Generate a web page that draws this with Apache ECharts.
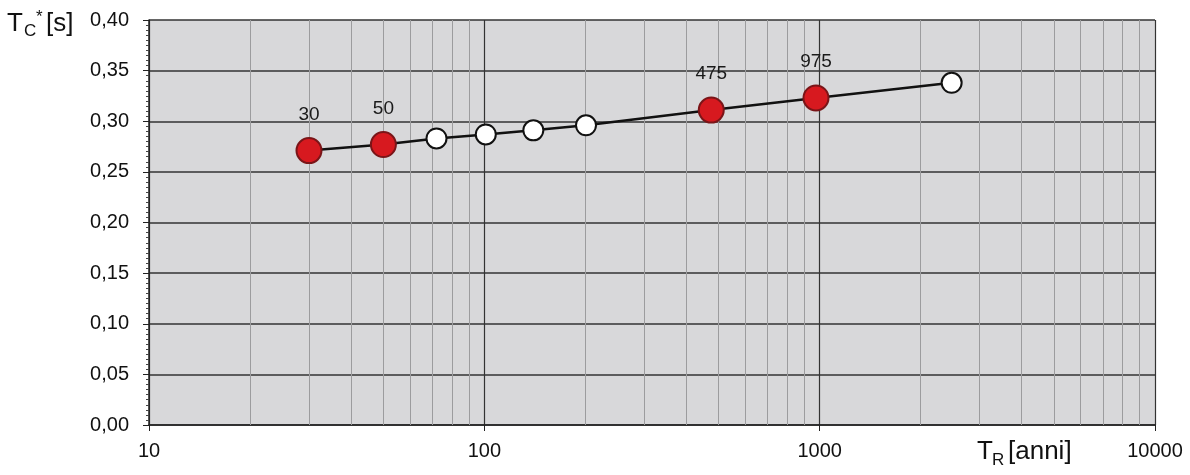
<!DOCTYPE html>
<html>
<head>
<meta charset="utf-8">
<script src="https://cdn.jsdelivr.net/npm/echarts@6/dist/echarts.min.js"></script>
<style>
html,body{margin:0;padding:0;background:#fff;}
#c{width:1190px;height:475px;}
</style>
</head>
<body>
<div id="c"></div>
<script>
// Return periods T_R [anni] and T_C* [s]
const periods = [30, 50, 72, 101, 140, 201, 475, 975, 2475];
const tcValues = [0.271, 0.277, 0.283, 0.287, 0.291, 0.296, 0.311, 0.323, 0.338];
const highlighted = [30, 50, 475, 975];
const xTickLabels = ['10', '100', '1000', '10000'];
const minorX = [20,30,40,50,60,70,80,90,200,300,400,500,600,700,800,900,2000,3000,4000,5000,6000,7000,8000,9000];

const chart = echarts.init(document.getElementById('c'));
const FONT = 'Liberation Sans, Arial, sans-serif';

const pts = periods.map((p, i) => {
  const hl = highlighted.includes(p);
  return {
    value: [p, tcValues[i]],
    symbolSize: hl ? 25 : 20,
    itemStyle: hl ? {color: '#d7191f', borderColor: '#7a1518', borderWidth: 2}
                  : {color: '#ffffff', borderColor: '#111', borderWidth: 2},
    label: {show: hl, formatter: String(p), position: 'top', distance: 13,
            color: '#1a1a1a', fontSize: 19, fontFamily: FONT}
  };
});

chart.setOption({
  animation: false,
  backgroundColor: '#ffffff',
  grid: {left: 149, right: 35, top: 20, bottom: 50, show: true, backgroundColor: '#d8d8da', borderWidth: 0},
  xAxis: {
    type: 'log', logBase: 10, min: 10, max: 10000,
    axisLine: {show: true, onZero: false, lineStyle: {color: '#222', width: 1.5}},
    axisTick: {show: true, length: 6, lineStyle: {color: '#222'}},
    axisLabel: {fontSize: 20, color: '#111', fontFamily: FONT, margin: 16,
      formatter: v => xTickLabels.includes(String(Math.round(v))) ? String(Math.round(v)) : ''},
    splitLine: {show: true, lineStyle: {color: '#333', width: 1.2}}
  },
  yAxis: {
    type: 'value', min: 0, max: 0.40, interval: 0.05,
    axisLine: {show: true, lineStyle: {color: '#222', width: 1.5}},
    axisTick: {show: true, length: 6, lineStyle: {color: '#222'}},
    minorTick: {show: true, splitNumber: 10, length: 3, lineStyle: {color: '#444'}},
    axisLabel: {fontSize: 20, color: '#111', fontFamily: FONT, margin: 20,
      formatter: v => v.toFixed(2).replace('.', ',')},
    splitLine: {show: true, lineStyle: {color: '#333', width: 1.5}}
  },
  series: [
    {
      type: 'line', data: [], silent: true,
      markLine: {
        silent: true, symbol: 'none', label: {show: false},
        lineStyle: {color: '#9c9c9e', width: 1, type: 'solid'},
        data: minorX.map(v => ({xAxis: v}))
      }
    },
    {
      type: 'line', data: pts, symbol: 'circle',
      lineStyle: {color: '#111', width: 2.5},
      z: 5
    }
  ],
  graphic: [
    {type: 'text', left: 7, top: 11, style: {text: 'T', fontSize: 26, fontFamily: FONT, fill: '#111'}},
    {type: 'text', left: 24, top: 23, style: {text: 'C', fontSize: 17, fontFamily: FONT, fill: '#111'}},
    {type: 'text', left: 36, top: 9, style: {text: '*', fontSize: 17, fontFamily: FONT, fill: '#111'}},
    {type: 'text', left: 46, top: 11, style: {text: '[s]', fontSize: 26, fontFamily: FONT, fill: '#111'}},
    {type: 'text', left: 977, top: 439, style: {text: 'T', fontSize: 26, fontFamily: FONT, fill: '#111'}},
    {type: 'text', left: 992, top: 452, style: {text: 'R', fontSize: 17, fontFamily: FONT, fill: '#111'}},
    {type: 'text', left: 1008, top: 439, style: {text: '[anni]', fontSize: 26, fontFamily: FONT, fill: '#111'}}
  ]
});
</script>
</body>
</html>
